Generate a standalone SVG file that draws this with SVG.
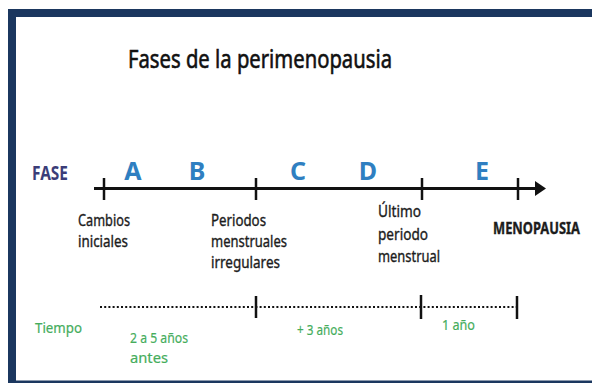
<svg xmlns="http://www.w3.org/2000/svg" width="592" height="383" viewBox="0 0 592 383">
<style>
.lbl{font-family:"Noto Sans","Open Sans",sans-serif;font-size:15.5px;fill:#1c1c1c;stroke:#1c1c1c;stroke-width:0.35}
.ph{font-family:"Noto Sans","Open Sans",sans-serif;font-size:25px;font-weight:bold;fill:#2f7fc1}
.gr{font-family:"Noto Sans","Open Sans",sans-serif;font-size:15px;fill:#45ad5c;stroke:#45ad5c;stroke-width:0.2}
.tick{stroke:#111;stroke-width:2.5}
</style>
<rect x="0" y="0" width="592" height="383" fill="#fff"/>
<g id="border" fill="#1b375f">
<rect x="8" y="9" width="584" height="8"/>
<rect x="8" y="9" width="8" height="374"/>
<rect x="8" y="380.5" width="584" height="2.5"/>
</g>
<g id="title"><text x="128" y="68" font-family="Noto Sans,Open Sans,sans-serif" font-size="25.5" fill="#111" stroke="#111" stroke-width="0.6" textLength="264" lengthAdjust="spacingAndGlyphs">Fases de la perimenopausia</text></g>
<g id="fase"><text x="32" y="180" font-family="Noto Sans,Open Sans,sans-serif" font-size="19" font-weight="bold" fill="#3b3d78" textLength="36" lengthAdjust="spacingAndGlyphs">FASE</text></g>
<g id="phases">
<text class="ph" x="133" y="180" text-anchor="middle">A</text>
<text class="ph" x="197" y="180" text-anchor="middle">B</text>
<text class="ph" x="298" y="180" text-anchor="middle">C</text>
<text class="ph" x="368" y="180" text-anchor="middle">D</text>
<text class="ph" x="482" y="180" text-anchor="middle">E</text>
</g>
<g id="connectors">
<line x1="94" y1="188.5" x2="540" y2="188.5" stroke="#111" stroke-width="3"/>
<polygon points="535,181 546,188.5 535,196" fill="#111"/>
<line class="tick" x1="104" y1="178" x2="104" y2="200"/>
<line class="tick" x1="256" y1="178" x2="256" y2="200"/>
<line class="tick" x1="422" y1="178" x2="422" y2="200"/>
<line class="tick" x1="518" y1="178" x2="518" y2="200"/>
<line x1="100" y1="307" x2="517" y2="307" stroke="#111" stroke-width="2.2" stroke-dasharray="2 2.2"/>
<line class="tick" x1="256" y1="296" x2="256" y2="318"/>
<line class="tick" x1="421" y1="295" x2="421" y2="319"/>
<line class="tick" x1="517" y1="296" x2="517" y2="319"/>
</g>
<g id="n1"><text class="lbl"><tspan x="78" y="226" textLength="52" lengthAdjust="spacingAndGlyphs">Cambios</tspan><tspan x="78" y="247" textLength="50" lengthAdjust="spacingAndGlyphs">iniciales</tspan></text></g>
<g id="n2"><text class="lbl"><tspan x="211" y="226" textLength="55" lengthAdjust="spacingAndGlyphs">Periodos</tspan><tspan x="211" y="247" textLength="76" lengthAdjust="spacingAndGlyphs">menstruales</tspan><tspan x="211" y="268" textLength="69" lengthAdjust="spacingAndGlyphs">irregulares</tspan></text></g>
<g id="n3"><text class="lbl"><tspan x="378" y="217" textLength="43" lengthAdjust="spacingAndGlyphs">Último</tspan><tspan x="378" y="240" textLength="50" lengthAdjust="spacingAndGlyphs">periodo</tspan><tspan x="378" y="262" textLength="62" lengthAdjust="spacingAndGlyphs">menstrual</tspan></text></g>
<g id="n4"><text class="lbl" x="493" y="234" font-weight="bold" font-size="13" stroke-width="0" textLength="87" lengthAdjust="spacingAndGlyphs">MENOPAUSIA</text></g>
<g id="tiempo">
<text class="gr" x="35" y="333" textLength="47" lengthAdjust="spacingAndGlyphs">Tiempo</text>
<text class="gr"><tspan x="130" y="343" textLength="58" lengthAdjust="spacingAndGlyphs">2 a 5 años</tspan><tspan x="130" y="363" textLength="38" lengthAdjust="spacingAndGlyphs">antes</tspan></text>
<text class="gr" x="297" y="335" textLength="46" lengthAdjust="spacingAndGlyphs">+ 3 años</text>
<text class="gr" x="442" y="330" textLength="33" lengthAdjust="spacingAndGlyphs">1 año</text>
</g>
</svg>
